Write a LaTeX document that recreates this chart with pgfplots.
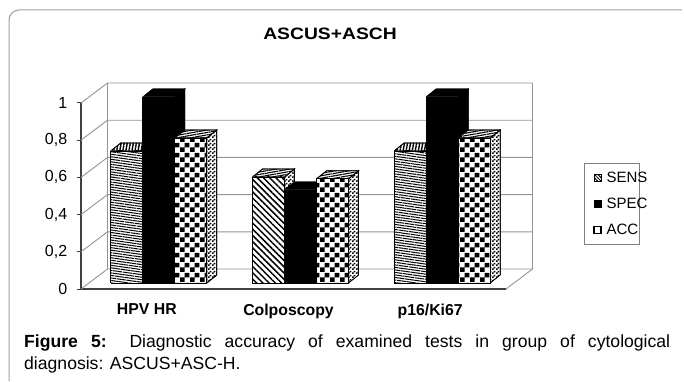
\documentclass[border=0pt]{standalone}
\usepackage{fontspec}
\setmainfont{Liberation Sans}
\usepackage{graphicx}
\usepackage{pgfplots}
\pgfplotsset{compat=1.18}
\usetikzlibrary{patterns,patterns.meta}
\pgfdeclarepatternformonly{bigcheck}{\pgfqpoint{0pt}{0pt}}{\pgfqpoint{10pt}{10pt}}{\pgfqpoint{10pt}{10pt}}{%
  \pgfpathrectangle{\pgfqpoint{0pt}{0pt}}{\pgfqpoint{5pt}{5pt}}%
  \pgfpathrectangle{\pgfqpoint{5pt}{5pt}}{\pgfqpoint{5pt}{5pt}}%
  \pgfusepath{fill}}
\pgfdeclarepatternformonly{smallcheck}{\pgfqpoint{0pt}{0pt}}{\pgfqpoint{4pt}{4pt}}{\pgfqpoint{4pt}{4pt}}{%
  \pgfpathrectangle{\pgfqpoint{0pt}{0pt}}{\pgfqpoint{2pt}{2pt}}%
  \pgfpathrectangle{\pgfqpoint{2pt}{2pt}}{\pgfqpoint{2pt}{2pt}}%
  \pgfusepath{fill}}
\definecolor{wallc}{gray}{0.58}
\definecolor{axc}{gray}{0.25}
\definecolor{framec}{gray}{0.62}
\newcommand{\tdbar}[6]{%
  \pgfmathsetmacro\xa{#1+0.0494+(#2-1.5)*0.2259}%
  \pgfmathsetmacro\xb{\xa+0.2259}%
  \pgfmathsetmacro\xc{\xb+0.0706}%
  \pgfmathsetmacro\xd{\xa+0.0706}%
  \pgfmathsetmacro\yt{0.0323+#3}%
  \pgfmathsetmacro\ytk{\yt+0.043}%
  \addplot[forget plot,draw=black,line width=0.7pt,fill=white,postaction={#5}] coordinates {(\xb,0.0323) (\xc,0.0753) (\xc,\ytk) (\xb,\yt) (\xb,0.0323)};
  \addplot[forget plot,draw=black,line width=0.7pt,fill=white,postaction={#6}] coordinates {(\xa,\yt) (\xb,\yt) (\xc,\ytk) (\xd,\ytk) (\xa,\yt)};
  \addplot[forget plot,draw=black,line width=0.7pt,fill=white,postaction={#4}] coordinates {(\xa,0.0323) (\xb,0.0323) (\xb,\yt) (\xa,\yt) (\xa,0.0323)};
}
\newcommand{\wall}[2]{%
  \addplot[forget plot,draw=wallc,line width=0.9pt] coordinates {(-0.5,#1) (-0.313,#2) (2.687,#2)};
}
\begin{document}
\begin{tikzpicture}[x=1pt,y=1pt]
\path[use as bounding box] (0,0) rectangle (684,381);
\draw[framec,line width=1pt] (9,0) -- (9,361) arc[start angle=180,end angle=90,radius=10] -- (682,371);
\begin{axis}[
  at={(81pt,92pt)},anchor=south west,
  scale only axis,width=425pt,height=186pt,
  xmin=-0.5,xmax=2.5,ymin=0,ymax=1,clip=false,
  axis lines=left,axis line style={-,draw=axc,line width=1.1pt},
  xtick={0,1,2},xticklabels={HPV HR,Colposcopy,p16/Ki67},
  xticklabel style={font=\fontsize{15.8}{18}\selectfont\bfseries,yshift=-7pt,xshift=-5pt},
  major x tick style={draw=none},
  extra x ticks={-0.5,0.5,1.5,2.5},extra x tick labels={},
  extra x tick style={tick style={draw=axc,line width=1pt},major tick length=5pt,tickwidth=5pt,tick align=outside},
  ytick={0,0.2,0.4,0.6,0.8,1},
  yticklabel style={font=\fontsize{16}{18}\selectfont,/pgf/number format/assume math mode=true,/pgf/number format/use comma,xshift=-6pt},
  y tick style={draw=axc,line width=1pt},
  tick align=outside,
  title={\scalebox{1.17}[1]{ASCUS+ASCH}},
  title style={at={(0.586,1.34)},anchor=center,font=\fontsize{16.5}{18}\selectfont\bfseries},
  legend style={at={(1.1835,0.68)},anchor=north west,draw=gray,line width=0.9pt,
    font=\fontsize{15}{16}\selectfont,inner xsep=9pt,inner ysep=7pt,row sep=10pt,
    nodes={inner xsep=1pt},
    /tikz/every odd column/.style={column sep=4pt}},
  legend cell align=left,
]
\addlegendimage{legend image code/.code={\draw[black,line width=0.7pt,fill=white,postaction={pattern={Lines[angle=-45,distance=2.4pt,line width=1pt]}}] (6pt,-3.5pt) rectangle (13pt,3.5pt);}}
\addlegendimage{legend image code/.code={\draw[black,fill=black] (6pt,-3.5pt) rectangle (13pt,3.5pt);}}
\addlegendimage{legend image code/.code={\draw[black,line width=1.2pt,fill=white] (6pt,-3.5pt) rectangle (13pt,3.5pt);}}
% walls
\addplot[forget plot,draw=wallc,line width=0.9pt] coordinates {(-0.313,0.1075) (-0.313,1.1075)};
\addplot[forget plot,draw=wallc,line width=0.9pt] coordinates {(2.687,0.1075) (2.687,1.1075)};
\addplot[forget plot,draw=wallc,line width=0.9pt] coordinates {(2.5,0) (2.687,0.1075)};
\wall{0}{0.1075}
\wall{0.2}{0.3075}
\wall{0.4}{0.5075}
\wall{0.6}{0.7075}
\wall{0.8}{0.9075}
\wall{1}{1.1075}
% bars: group, slot, value, front, side, top
\tdbar{0}{0}{0.71}{pattern={Lines[angle=-8,distance=2.5pt,line width=1pt]}}{pattern=smallcheck}{pattern={Lines[angle=80,distance=3pt,line width=1.4pt]}}
\tdbar{0}{1}{1.00}{fill=black}{fill=black}{fill=black}
\tdbar{0}{2}{0.78}{pattern=bigcheck}{pattern=smallcheck}{pattern={Lines[angle=10,distance=2.4pt,line width=1.1pt]}}
\tdbar{1}{0}{0.57}{pattern={Lines[angle=-45,distance=4.4pt,line width=1.5pt]}}{pattern=smallcheck}{pattern={Lines[angle=10,distance=2.4pt,line width=1.1pt]}}
\tdbar{1}{1}{0.50}{fill=black}{fill=black}{fill=black}
\tdbar{1}{2}{0.56}{pattern=bigcheck}{pattern=smallcheck}{pattern={Lines[angle=10,distance=2.4pt,line width=1.1pt]}}
\tdbar{2}{0}{0.71}{pattern={Lines[angle=-8,distance=2.5pt,line width=1pt]}}{pattern=smallcheck}{pattern={Lines[angle=80,distance=3pt,line width=1.4pt]}}
\tdbar{2}{1}{1.00}{fill=black}{fill=black}{fill=black}
\tdbar{2}{2}{0.78}{pattern=bigcheck}{pattern=smallcheck}{pattern={Lines[angle=10,distance=2.4pt,line width=1.1pt]}}
\legend{SENS\hspace*{-18pt},SPEC\hspace*{-18pt},ACC\hspace*{-18pt}}
\end{axis}
\node[anchor=north west,inner sep=0pt,text width=646pt,align=justify,font=\fontsize{17.6}{22}\selectfont] at (24,46)
  {\textbf{Figure 5:} Diagnostic accuracy of examined tests in group of cytological\linebreak diagnosis: ASCUS+ASC-H.};
\end{tikzpicture}
\end{document}
